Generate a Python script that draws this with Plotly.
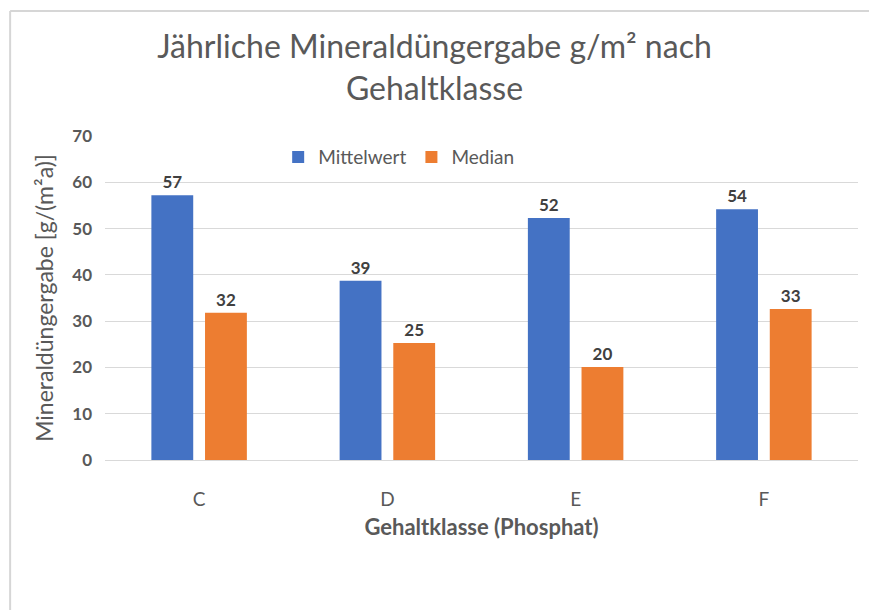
import plotly.graph_objects as go

categories = ["C", "D", "E", "F"]
mittelwert = [57.2, 38.7, 52.3, 54.2]
median = [31.8, 25.3, 20.1, 32.6]
y_ticks = [0, 10, 20, 30, 40, 50, 60, 70]

FONT = "Lato"
GRAY = "#595959"

fig = go.Figure()
fig.add_trace(go.Bar(
    x=categories, y=mittelwert, name="Mittelwert",
    marker=dict(color="#4472C4", line=dict(width=0)),
    texttemplate="%{y:.0f}", textposition="outside",
    textfont=dict(family=FONT, size=17, color="#404040", weight="bold"),
    cliponaxis=False,
))
fig.add_trace(go.Bar(
    x=categories, y=median, name="Median",
    marker=dict(color="#ED7D31", line=dict(width=0)),
    texttemplate="%{y:.0f}", textposition="outside",
    textfont=dict(family=FONT, size=17, color="#404040", weight="bold"),
    cliponaxis=False,
))

fig.update_layout(
    width=869, height=610,
    margin=dict(l=105, r=11, t=136, b=150),
    paper_bgcolor="white", plot_bgcolor="white",
    bargap=0.43, bargroupgap=0.22,
    title=dict(
        text="Jährliche Mineraldüngergabe g/m² nach<br>Gehaltklasse",
        x=0.5, xanchor="center", y=0.905, yanchor="top",
        font=dict(family=FONT, size=32, color=GRAY),
    ),
    font=dict(family=FONT, color=GRAY),
    legend=dict(
        orientation="h", x=0.39, xanchor="center", y=0.935, yanchor="middle",
        font=dict(family=FONT, size=19, color=GRAY),
        bgcolor="rgba(0,0,0,0)", itemwidth=30,
    ),
    showlegend=True,
)
fig.update_xaxes(
    showgrid=False, showline=True, linecolor="#d9d9d9", linewidth=1,
    ticks="", tickfont=dict(family=FONT, size=19, color=GRAY),
    ticklabelstandoff=22,
    title=dict(text="Gehaltklasse (Phosphat)", standoff=10,
               font=dict(family=FONT, size=22, color=GRAY, weight="bold")),
)
fig.update_yaxes(
    range=[0, 70], tickvals=y_ticks, showgrid=True, gridcolor="#d9d9d9", gridwidth=1,
    zeroline=False, showline=False, ticks="",
    tickfont=dict(family=FONT, size=17, color=GRAY, weight="bold"),
    ticklabelstandoff=12,
    title=dict(text="Mineraldüngergabe [g/(m²a)]", standoff=12,
               font=dict(family=FONT, size=23, color=GRAY)),
)

# light frame at top and left of the chart area
fig.add_shape(type="line", xref="paper", yref="paper",
              x0=-0.126, x1=1.02, y0=1.386, y1=1.386,
              line=dict(color="#d6d6d6", width=2))
fig.add_shape(type="line", xref="paper", yref="paper",
              x0=-0.126, x1=-0.126, y0=1.386, y1=-0.5,
              line=dict(color="#d6d6d6", width=2))

fig.write_html("out.html", config={"displayModeBar": False},
               post_script="document.body.style.margin='0';")
